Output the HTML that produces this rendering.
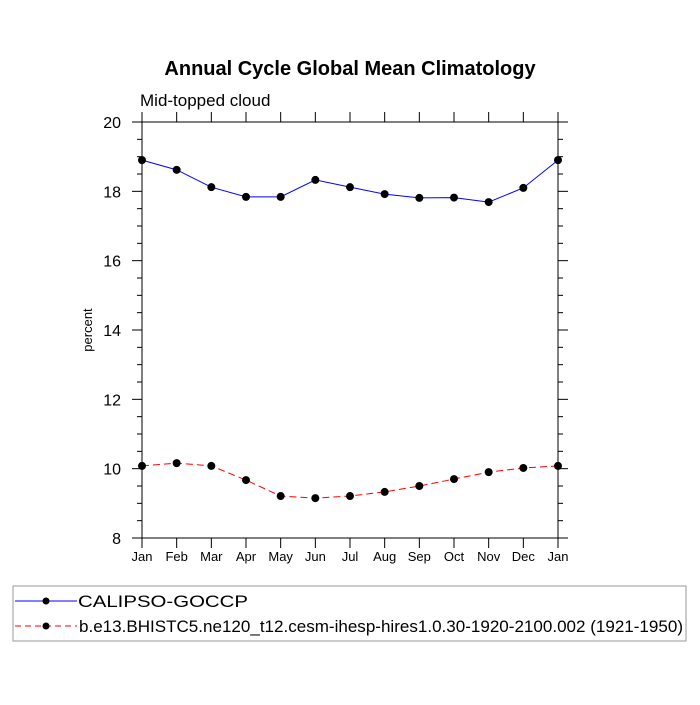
<!DOCTYPE html>
<html><head><meta charset="utf-8"><style>
body{margin:0;background:#fff}
svg{font-family:"Liberation Sans",sans-serif}
</style></head><body>
<svg id="c" width="700" height="700" xmlns="http://www.w3.org/2000/svg">
<text x="350" y="75" text-anchor="middle" font-size="20" font-weight="bold">Annual Cycle Global Mean Climatology</text>
<text x="140" y="106" font-size="17">Mid-topped cloud</text>
<text transform="translate(92,330) rotate(-90)" text-anchor="middle" font-size="13">percent</text>
<g id="axes"></g><g id="series"></g>
<rect x="13" y="586" width="673" height="55" fill="none" stroke="#999"/>
<g>
<line x1="15" y1="601" x2="77" y2="601" stroke="#00f"/><circle cx="46" cy="601" r="3.5"/>
<text x="78" y="607" font-size="17" textLength="170" lengthAdjust="spacingAndGlyphs">CALIPSO-GOCCP</text></g>
<g>
<line x1="15" y1="626" x2="77" y2="626" stroke="#f00" stroke-dasharray="6,4"/><circle cx="46" cy="626" r="3.5"/>
<text x="79" y="632" font-size="17" textLength="604" lengthAdjust="spacingAndGlyphs">b.e13.BHISTC5.ne120_t12.cesm-ihesp-hires1.0.30-1920-2100.002 (1921-1950)</text></g>
</svg>
<script>
const months=["Jan","Feb","Mar","Apr","May","Jun","Jul","Aug","Sep","Oct","Nov","Dec","Jan"];
const yTicks=[8,10,12,14,16,18,20];
const calipso=[18.9,18.62,18.12,17.84,17.84,18.33,18.12,17.92,17.81,17.82,17.69,18.1,18.9];
const model=[10.08,10.16,10.08,9.67,9.21,9.15,9.21,9.33,9.5,9.7,9.9,10.02,10.08];
const X0=142,X1=558,Y0=538,Y1=122,NS="http://www.w3.org/2000/svg";
const xs=i=>X0+(X1-X0)*i/12, ys=v=>Y0-(Y0-Y1)*(v-8)/12;
function mk(p,t,a){const e=document.createElementNS(NS,t);for(const k in a)e.setAttribute(k,a[k]);p.appendChild(e);return e;}
const ax=document.getElementById('axes');
const fr=mk(ax,'rect',{x:X0,y:Y1,width:X1-X0,height:Y0-Y1,fill:'none',stroke:'#000'});


for(let v=8;v<=20;v+=0.5){const maj=v%2===0,y=ys(v),l=maj?10:5;
 mk(ax,'line',{x1:X0-l,y1:y,x2:X0,y2:y,stroke:'#000'});
 mk(ax,'line',{x1:X1,y1:y,x2:X1+l,y2:y,stroke:'#000'});}
yTicks.forEach(v=>{const t=mk(ax,'text',{x:X0-21,y:ys(v)+6,'text-anchor':'end','font-size':16});t.textContent=v;
 
 });
months.forEach((m,i)=>{const x=xs(i);
 mk(ax,'line',{x1:x,y1:Y0,x2:x,y2:Y0+10,stroke:'#000'});
 mk(ax,'line',{x1:x,y1:Y1,x2:x,y2:Y1-10,stroke:'#000'});
 const t=mk(ax,'text',{x:x,y:Y0+23,'text-anchor':'middle','font-size':13});t.textContent=m;
 
 });
const sg=document.getElementById('series');
function draw(d,col,dash,name){
 const pl=mk(sg,'polyline',{points:d.map((v,i)=>xs(i)+','+ys(v)).join(' '),fill:'none',stroke:col,'stroke-dasharray':dash});
 
 
 d.forEach((v,i)=>{const c=mk(sg,'circle',{cx:xs(i),cy:ys(v),r:4});
  
  });}
draw(calipso,'#00f','none','calipso');
draw(model,'#f00','7,4','model');
</script>
</body></html>
